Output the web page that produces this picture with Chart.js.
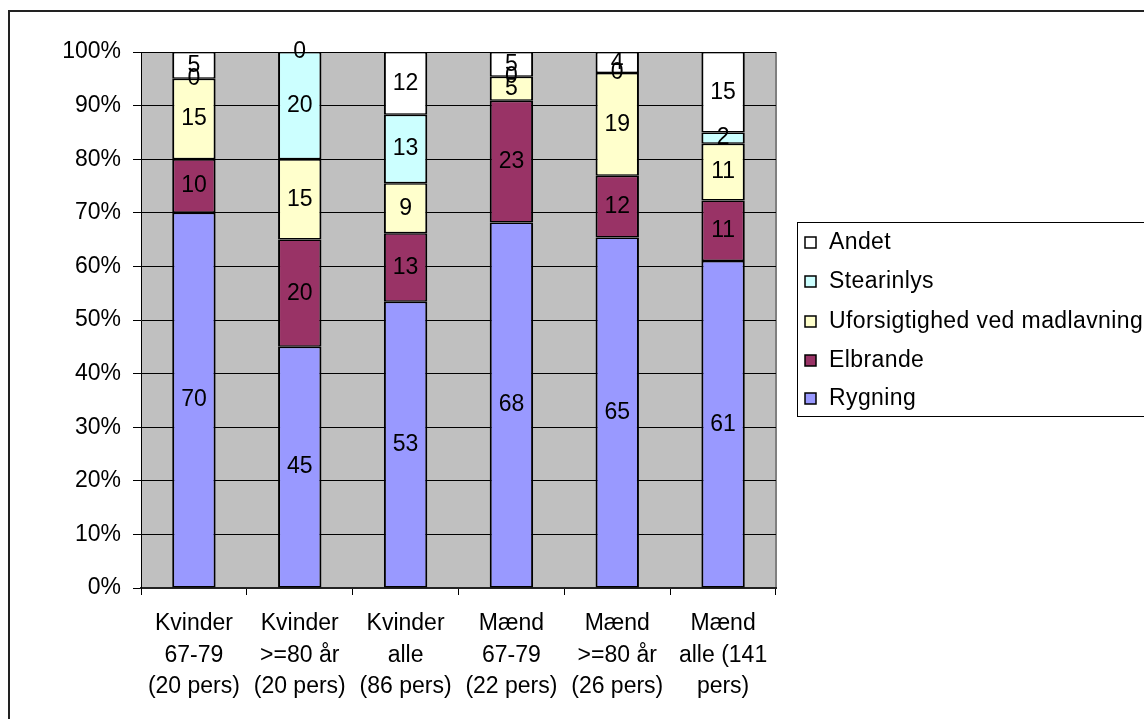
<!DOCTYPE html>
<html><head><meta charset="utf-8">
<script src="https://cdn.jsdelivr.net/npm/chart.js@4.4.1/dist/chart.umd.min.js"></script>
<style>html,body{margin:0;padding:0;background:#fff;}canvas{display:block;}</style>
</head><body>
<canvas id="c" width="1144" height="719"></canvas>
<script>
const categories = [
  ["Kvinder","67-79","(20 pers)"],
  ["Kvinder",">=80 år","(20 pers)"],
  ["Kvinder","alle","(86 pers)"],
  ["Mænd","67-79","(22 pers)"],
  ["Mænd",">=80 år","(26 pers)"],
  ["Mænd","alle (141","pers)"]
];
const seriesNames = ["Rygning","Elbrande","Uforsigtighed ved madlavning","Stearinlys","Andet"];
// percentage shares (labels shown rounded)
const rygning       = [70, 45, 53.4, 68.2, 65.4, 61.0];
const elbrande      = [10, 20, 12.8, 22.7, 11.5, 11.3];
const uforsigtighed = [15, 15,  9.3,  4.5, 19.2, 10.6];
const stearinlys    = [ 0, 20, 12.8,  0,    0,    2.1];
const andet         = [ 5,  0, 11.7,  4.6,  3.9, 15.0];
const yTickValues   = [0,10,20,30,40,50,60,70,80,90,100];

const seriesValues = [rygning, elbrande, uforsigtighed, stearinlys, andet];
const seriesColors = ["#9999FF","#993366","#FFFFCC","#CCFFFF","#FFFFFF"];

const FONT = "'Liberation Sans', Arial, sans-serif";
const FS = 23;

const datasets = seriesValues.map((vals, k) => ({
  label: seriesNames[k],
  data: vals,
  backgroundColor: seriesColors[k],
  borderColor: "#000",
  borderWidth: {top: 1.5, bottom: 1.5, left: 2, right: 2},
  borderSkipped: false,
  barPercentage: 0.41,
  categoryPercentage: 1.0
}));

const bgPlugin = {
  id: "bg",
  beforeDraw(chart) {
    const {ctx, chartArea: a} = chart;
    ctx.save();
    ctx.fillStyle = "#fff";
    ctx.fillRect(0, 0, chart.width, chart.height);
    ctx.fillStyle = "#C0C0C0";
    ctx.fillRect(a.left, a.top, a.right - a.left, a.bottom - a.top);
    ctx.strokeStyle = "#808080";
    ctx.lineWidth = 2;
    ctx.beginPath();
    ctx.moveTo(a.right, a.top);
    ctx.lineTo(a.right, a.bottom);
    ctx.stroke();
    ctx.strokeStyle = "#222";
    ctx.lineWidth = 2;
    ctx.beginPath();
    ctx.moveTo(9, chart.height + 5);
    ctx.lineTo(9, 11);
    ctx.lineTo(chart.width + 5, 11);
    ctx.stroke();
    ctx.restore();
  }
};

const labelPlugin = {
  id: "vals",
  afterDatasetsDraw(chart) {
    const ctx = chart.ctx;
    ctx.save();
    ctx.font = FS + "px " + FONT;
    ctx.fillStyle = "#000";
    ctx.textAlign = "center";
    ctx.textBaseline = "middle";
    chart.data.datasets.forEach((ds, k) => {
      const meta = chart.getDatasetMeta(k);
      meta.data.forEach((el, i) => {
        const y = (el.y + el.base) / 2;
        ctx.fillText(String(Math.round(ds.data[i])), el.x, y);
      });
    });
    ctx.restore();
  }
};

const legendPlugin = {
  id: "customLegend",
  afterDraw(chart) {
    const ctx = chart.ctx;
    ctx.save();
    ctx.strokeStyle = "#000";
    ctx.lineWidth = 1;
    ctx.strokeRect(797.5, 222.5, 400, 194);
    ctx.font = FS + "px " + FONT;
    ctx.textBaseline = "middle";
    ctx.textAlign = "left";
    const dsList = chart.data.datasets.slice().reverse();
    const rowY = [242, 281, 321, 360, 398];
    dsList.forEach((ds, j) => {
      const y = rowY[j];
      ctx.fillStyle = ds.backgroundColor;
      ctx.fillRect(805, y - 5, 11, 11);
      ctx.strokeStyle = "#000";
      ctx.lineWidth = 1.5;
      ctx.strokeRect(805, y - 5, 11, 11);
      ctx.fillStyle = "#000";
      try { ctx.letterSpacing = "0.4px"; } catch (e) {}
      ctx.fillText(ds.label, 829, y + 1);
    });
    ctx.restore();
  }
};

new Chart(document.getElementById("c"), {
  type: "bar",
  data: { labels: categories, datasets },
  options: {
    responsive: false,
    animation: false,
    layout: { padding: { left: 0, top: 52, right: 1144 - 776, bottom: 0 } },
    plugins: { legend: { display: false }, tooltip: { enabled: false } },
    scales: {
      x: {
        stacked: true,
        afterFit(s) { s.height = 719 - 588; },
        grid: { offset: true, drawOnChartArea: false, drawTicks: true, tickLength: 7, color: "#000", lineWidth: 1 },
        border: { display: true, color: "#222", width: 2 },
        ticks: { color: "#000", font: { family: FONT, size: FS, lineHeight: 1.37 }, padding: 13, maxRotation: 0, autoSkip: false }
      },
      y: {
        stacked: true,
        min: 0, max: 100,
        afterFit(s) { s.width = 141; },
        afterBuildTicks(s) { s.ticks = yTickValues.map(v => ({ value: v })); },
        grid: { color: "#000", lineWidth: 1, tickLength: 8 },
        border: { display: true, color: "#000", width: 1 },
        ticks: { color: "#000", font: { family: FONT, size: FS }, padding: 12, callback: v => v + "%" }
      }
    }
  },
  plugins: [bgPlugin, labelPlugin, legendPlugin]
});
</script>
</body></html>
